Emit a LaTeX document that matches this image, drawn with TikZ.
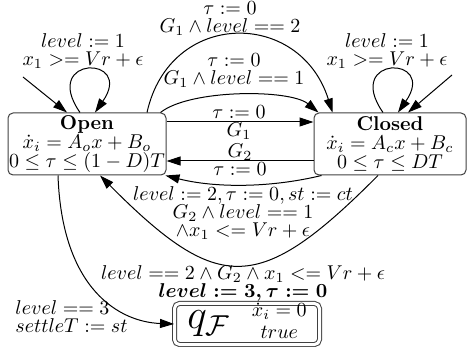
\documentclass[tikz,border=0pt]{standalone}
\usepackage{amsmath, amssymb}
\usepackage{tikz}
\usetikzlibrary{arrows.meta, calc}

\begin{document}
\begin{tikzpicture}[x=0.5pt,y=-0.5pt,>={Triangle[length=7pt,width=4.5pt]},
  line width=0.5pt,
  every node/.style={font=\fontsize{10}{9}\selectfont},
  locbox/.style={draw=black!75,rounded corners=2.5pt,inner sep=0pt,
    align=center,minimum height=31pt,font=\fontsize{10}{9.5}\selectfont},
  lbl/.style={align=center,inner sep=0pt}]
  \useasboundingbox (0,0) rectangle (467,347);

  % locations
  \node[locbox,minimum width=79pt] (open) at (87,144)
    {\textbf{Open}\\ $\dot{x}_i = A_o x + B_o$\\ $0 \leq \tau \leq (1-D)T$};
  \node[locbox,minimum width=76pt] (closed) at (390,144)
    {\textbf{Closed}\\ $\dot{x}_i = A_c x + B_c$\\ $0 \leq \tau \leq DT$};
  \node[locbox,double,double distance=1.5pt,minimum width=72.5pt,
    minimum height=16.5pt] (qf) at (247,324)
    {{\fontsize{22}{22}\selectfont$q_{\mathcal{F}}$}\hspace{11pt}%
     $\begin{array}{@{}c@{}}\dot{x}_i = 0\\[1.5pt] true\end{array}$};

  % initial arrows
  \coordinate (openinit) at (23,77);
  \coordinate (closedinit) at (452,75);
  \draw[->] (openinit) -- ([xshift=-10pt]open.north);
  \draw[->] (closedinit) -- ([xshift=9pt]closed.north);

  % self loops
  \draw[->] ([xshift=-3.5pt]open.north)
    .. controls (40,55) and (135,55) .. ([xshift=4pt]open.north);
  \draw[->] ([xshift=-3.5pt]closed.north)
    .. controls (343,55) and (438,55) .. ([xshift=4pt]closed.north);
  \node[lbl] (lopenloop) at (83,51) {$level := 1$\\ $x_1 >= Vr + \epsilon$};
  \node[lbl] (lclosedloop) at (387,51) {$level := 1$\\ $x_1 >= Vr + \epsilon$};

  % open -> closed
  \draw[->] ([xshift=30pt]open.north)
    .. controls (170,9) and (300,9) .. ([xshift=9.5pt]closed.north west);
  \draw[->] ([xshift=-3pt]open.north east)
    .. controls (190,89) and (290,89) .. ([xshift=2.5pt]closed.north west);
  \draw[->] ([yshift=11pt]open.east) -- ([yshift=11pt]closed.west);
  \node[lbl] (ltop) at (230,19) {$\tau := 0$\\ $G_1 \wedge level == 2$};
  \node[lbl] (lmid) at (234,71) {$\tau := 0$\\ $G_1 \wedge level == 1$};
  \node[lbl] (lgo) at (239,123) {$\tau := 0$\\ $G_1$};

  % closed -> open
  \draw[->] ([yshift=-8.5pt]closed.west) -- ([yshift=-8.5pt]open.east);
  \draw[->] ([xshift=4pt]closed.south west)
    .. controls (270,188) and (215,188) .. ([xshift=-0.5pt]open.south east);
  \draw[->] ([xshift=-6pt]closed.south)
    .. controls (259,295) and (219,295) .. ([xshift=6.5pt]open.south);
  \node[lbl] (lback) at (240,160) {$G_2$\\ $\tau := 0$};
  \node[lbl] (lbot) at (243,213)
    {$level := 2, \tau := 0, st := ct$\\ $G_2 \wedge level == 1$\\
     $\wedge x_1 <= Vr + \epsilon$};
  \node[lbl] (lfin) at (243,284)
    {$level == 2 \wedge G_2 \wedge x_1 <= Vr + \epsilon$\\
     {\boldmath$level := 3, \tau := 0$}};

  % open -> final
  \draw[->] ([xshift=-14.5pt]open.south)
    .. controls (62,290) and (120,322) .. (qf.west);
  \node[lbl,anchor=west,align=left] (lsettle) at (15,317)
    {$level == 3$\\ $settleT := st$};
\end{tikzpicture}
\end{document}
